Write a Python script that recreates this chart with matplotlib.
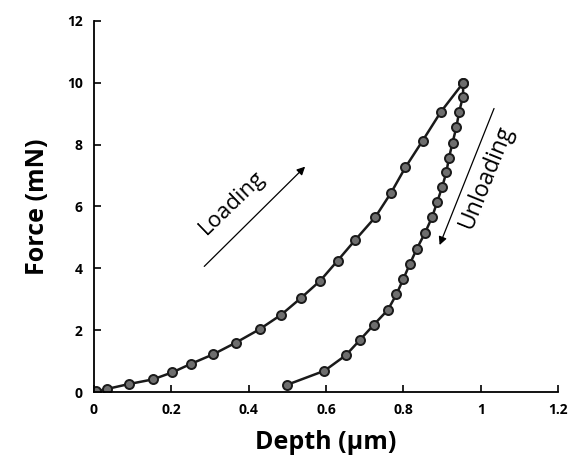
import matplotlib
matplotlib.use("Agg")
import matplotlib.pyplot as plt

# values
load_depth = [0.004, 0.033, 0.09, 0.152, 0.203, 0.25, 0.308, 0.367, 0.428, 0.484,
              0.535, 0.585, 0.63, 0.675, 0.727, 0.768, 0.805, 0.85, 0.897, 0.955]
load_force = [0.02, 0.1, 0.26, 0.41, 0.64, 0.91, 1.22, 1.6, 2.03, 2.5,
              3.04, 3.6, 4.25, 4.91, 5.65, 6.44, 7.26, 8.13, 9.06, 10.0]

unload_depth = [0.955, 0.954, 0.944, 0.937, 0.927, 0.918, 0.911, 0.9, 0.887, 0.874,
                0.856, 0.835, 0.817, 0.8, 0.782, 0.76, 0.723, 0.688, 0.651, 0.596, 0.498]
unload_force = [10.0, 9.55, 9.05, 8.56, 8.06, 7.58, 7.1, 6.62, 6.13, 5.65,
                5.15, 4.64, 4.15, 3.66, 3.16, 2.66, 2.17, 1.69, 1.19, 0.69, 0.23]

x_ticks = [0, 0.2, 0.4, 0.6, 0.8, 1, 1.2]
x_labels = ["0", "0.2", "0.4", "0.6", "0.8", "1", "1.2"]
y_ticks = [0, 2, 4, 6, 8, 10, 12]

plt.rcParams['font.family'] = ['Open Sans', 'DejaVu Sans']

fig = plt.figure(figsize=(5.73, 4.73), dpi=100)
ax = fig.add_axes([0.164, 0.171, 0.81, 0.785])

style = dict(color='#1a1a1a', lw=1.8, marker='o', markersize=6.5,
             markerfacecolor='#6e6e6e', markeredgecolor='#1a1a1a', markeredgewidth=1.4)
ax.plot(load_depth, load_force, **style)
ax.plot(unload_depth, unload_force, **style)

ax.set_xlim(0, 1.2)
ax.set_ylim(0, 12)
ax.set_xticks(x_ticks)
ax.set_xticklabels(x_labels)
ax.set_yticks(y_ticks)
for lab in ax.get_xticklabels() + ax.get_yticklabels():
    lab.set_fontweight('bold')
    lab.set_fontsize(10)
ax.tick_params(direction='in', length=5, width=1.2, pad=8)
ax.spines['top'].set_visible(False)
ax.spines['right'].set_visible(False)
ax.spines['left'].set_linewidth(1.3)
ax.spines['bottom'].set_linewidth(1.3)

ax.set_xlabel('Depth (µm)', fontsize=18, fontweight='bold', labelpad=9)
ax.set_ylabel('Force (mN)', fontsize=18, fontweight='bold', labelpad=12)

# arrows with labels
ax.annotate('', xy=(0.551, 7.35), xytext=(0.28, 4.0),
            arrowprops=dict(arrowstyle='-|>', color='black', lw=0.9, mutation_scale=12))
ax.text(0.357, 6.1, 'Loading', rotation=44, fontsize=16, ha='center', va='center')
ax.annotate('', xy=(0.891, 4.67), xytext=(1.037, 9.25),
            arrowprops=dict(arrowstyle='-|>', color='black', lw=0.9, mutation_scale=12))
ax.text(1.015, 6.95, 'Unloading', rotation=68, fontsize=16.5, ha='center', va='center')

fig.savefig('out.png', dpi=100)
